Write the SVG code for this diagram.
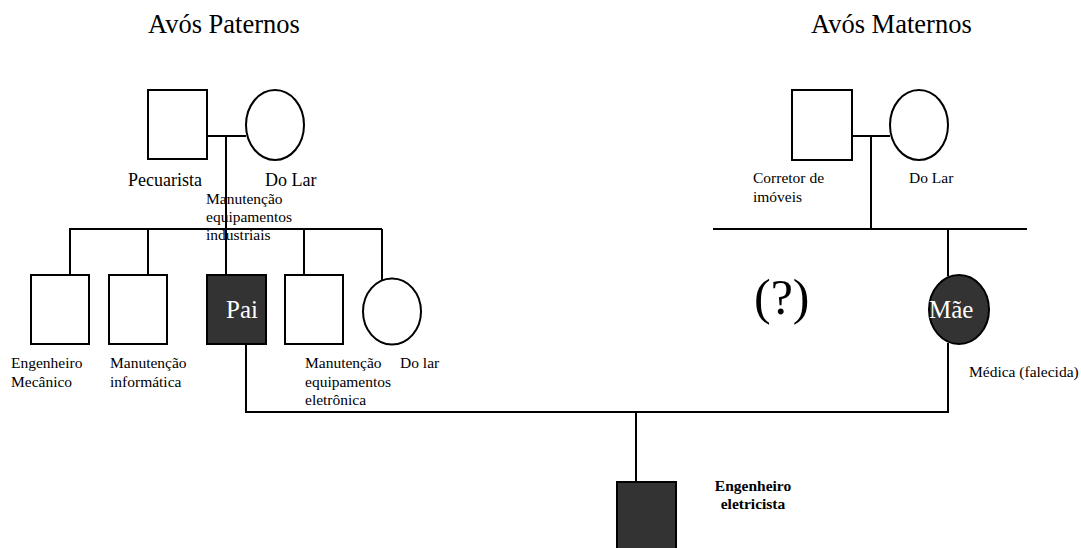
<svg xmlns="http://www.w3.org/2000/svg" width="1081" height="548" viewBox="0 0 1081 548">
<style>
.s{fill:#fff;stroke:#000;stroke-width:2}
.d{fill:#333;stroke:#000;stroke-width:2}
.l{fill:none;stroke:#000;stroke-width:2}
text{font-family:"Liberation Serif","Times New Roman",serif;fill:#000}
.t{font-size:26.5px}
.m{font-size:18px}
.sm{font-size:15.5px}
.w{fill:#fff;font-size:25px}
.b{font-weight:bold;font-size:15.5px}
</style>
<rect width="1081" height="548" fill="#fff"/>
<text class="t" x="148" y="33">Avós Paternos</text>
<text class="t" x="811" y="33">Avós Maternos</text>
<g id="connectors">
<path class="l" d="M207 136H246M226 136V275"/>
<path class="l" d="M69 229H382M70 229V275M148 229V275M304 229V275M382 229V280"/>
<path class="l" d="M852 136H890M871 136V229"/>
<path class="l" d="M713 229H1027M948 229V276"/>
<path class="l" d="M246 344V412H948V343"/>
<path class="l" d="M636 412V482"/>
</g>
<g id="avo-paterno"><rect class="s" x="148" y="90" width="59" height="69"/><text class="m" x="128" y="186">Pecuarista</text></g>
<g id="avo-paterna"><ellipse class="s" cx="275" cy="125" rx="29" ry="35"/><text class="m" x="265" y="186">Do Lar</text></g>
<g id="tio1"><rect class="s" x="31" y="275" width="58" height="69"/><text class="sm" x="11" y="368">Engenheiro</text><text class="sm" x="11" y="387">Mecânico</text></g>
<g id="tio2"><rect class="s" x="109" y="275" width="58" height="69"/><text class="sm" x="110" y="368">Manutenção</text><text class="sm" x="110" y="387">informática</text></g>
<g id="pai"><rect class="d" x="207" y="275" width="59" height="69"/><text class="w" x="226" y="318">Pai</text><text class="sm" x="206" y="204">Manutenção</text><text class="sm" x="206" y="222">equipamentos</text><text class="sm" x="206" y="240">industriais</text></g>
<g id="tio3"><rect class="s" x="285" y="275" width="58" height="69"/><text class="sm" x="305" y="368">Manutenção</text><text class="sm" x="305" y="387">equipamentos</text><text class="sm" x="305" y="405">eletrônica</text></g>
<g id="tia"><ellipse class="s" cx="392" cy="311.5" rx="29" ry="33"/><text class="sm" x="400" y="368">Do lar</text></g>
<g id="avo-materno"><rect class="s" x="792" y="90" width="60" height="70"/><text class="sm" x="753" y="183">Corretor de</text><text class="sm" x="753" y="202">imóveis</text></g>
<g id="avo-materna"><ellipse class="s" cx="919" cy="125" rx="29" ry="35"/><text class="sm" x="909" y="183">Do Lar</text></g>
<g id="desconhecido"><text x="754" y="314" style="font-size:50px">(?)</text></g>
<g id="mae"><ellipse class="d" cx="959" cy="309.5" rx="30" ry="34.5"/><text class="w" x="929" y="318">Mãe</text><text class="sm" x="969" y="377">Médica (falecida)</text></g>
<g id="filho"><rect class="d" x="617" y="482" width="59" height="80"/><text class="b" x="753" y="491" text-anchor="middle">Engenheiro</text><text class="b" x="753" y="509" text-anchor="middle">eletricista</text></g>
</svg>
